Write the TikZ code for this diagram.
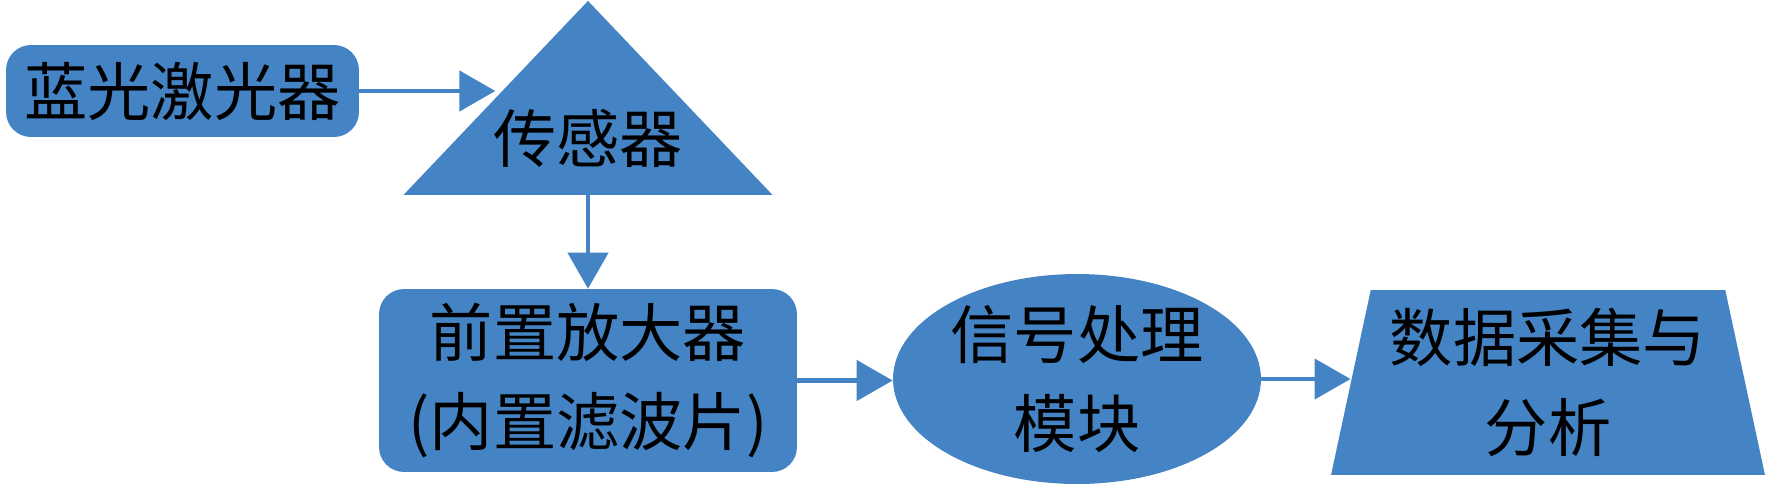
\documentclass[tikz,border=0pt]{standalone}
\usepackage{fontspec}
\newfontfamily\cjk{Noto Sans CJK SC}
\usetikzlibrary{arrows.meta,shapes.geometric,positioning}
\definecolor{boxblue}{RGB}{68,131,196}
\tikzset{
block/.style={
  rectangle,
  fill=boxblue,
  rounded corners=0.5cm,
  inner sep=0pt,
  align=center,
  font=\fontsize{36}{51}\selectfont\cjk},
tri/.style={
  isosceles triangle,
  isosceles triangle stretches,
  shape border rotate=90,
  fill=boxblue,
  inner sep=0pt},
oval/.style={
  ellipse,
  fill=boxblue,
  inner sep=0pt,
  align=center,
  font=\fontsize{36}{51}\selectfont\cjk},
trap/.style={
  trapezium,
  trapezium stretches body,
  trapezium left angle=75,
  trapezium right angle=75,
  fill=boxblue,
  inner sep=0pt,
  align=center,
  font=\fontsize{36}{51}\selectfont\cjk},
txt/.style={font=\fontsize{36}{51}\selectfont\cjk, inner sep=0pt},
line/.style={draw=boxblue, line width=0.09cm, -{Triangle[length=0.72cm, width=0.8cm]}}
}
\begin{document}
\begin{tikzpicture}[x=0.02cm, y=-0.02cm]
    \useasboundingbox (0,0) rectangle (1772,484);
    \node [block, minimum width=7.06cm, minimum height=1.84cm] (laser) at (182.5,91) {蓝光激光器};
    \node [tri, minimum width=7.38cm, minimum height=3.88cm, anchor=apex] (sensor) at (588,0) {};
    \node [txt] (sensortxt) at (588,138) {传感器};
    \node [block, minimum width=8.36cm, minimum height=3.66cm] (preamp) at (588,380.5) {前置放大器\\(内置滤波片)};
    \node [oval, minimum width=7.36cm, minimum height=4.2cm] (signal) at (1077,379) {信号处理\\模块};
    \node [trap, minimum width=8.68cm, minimum height=3.7cm] (daq) at (1548,382.5) {数据采集与\\分析};
    \path [line] (laser.east) -- (laser.east -| sensor.left side);
    \path [line] (sensor.lower side) -- (preamp.north);
    \path [line] (preamp.east) -- (preamp.east -| signal.west);
    \path [line] (signal.east) -- (signal.east -| daq.west);
\end{tikzpicture}
\end{document}
